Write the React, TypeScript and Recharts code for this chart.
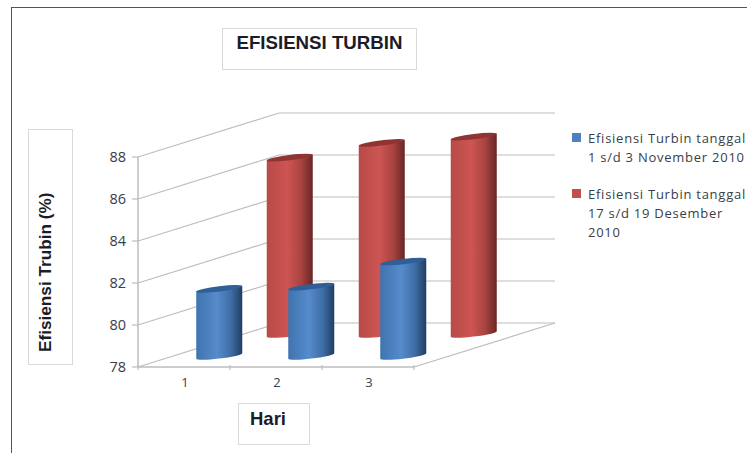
// Efisiensi turbin: faux 3D cylinder columns. Depth is drawn by the grid and the
// bar shapes, everything else comes from the Recharts scales.
import { ComposedChart, Bar, XAxis, YAxis, CartesianGrid } from 'recharts';

const HARI = ['1', '2', '3'];
const NOVEMBER = [81.2, 81.3, 82.5];
const DESEMBER = [86.4, 87.1, 87.4];
const Y_TICKS = [78, 80, 82, 84, 86, 88];
const NAME_NOV = 'Efisiensi Turbin tanggal 1 s/d 3 November 2010';
const NAME_DES = 'Efisiensi Turbin tanggal 17 s/d 19 Desember 2010';

const data = HARI.map((hari, i) => ({ hari, nov: NOVEMBER[i], des: DESEMBER[i] }));

// Offset from the front plane to the back wall.
const DEPTH_X = 141;
const DEPTH_Y = 44;
const GRID = '#bdbdbd';
const FONT = '"Open Sans", sans-serif';
const BOLD = '"Liberation Sans", Arial, sans-serif';
const TEXT = '#3a4048';

// Cylinder with a tilted elliptical cap, shifted to its row in depth.
function cylinder(grad: string, cap: string, row: number) {
  return (props: any) => {
    const { x, y, width, height } = props;
    const cx = x + DEPTH_X * row;
    const top = y - DEPTH_Y * row;
    const bottom = top + height;
    const tilt = 2.8;
    const rx = width / 2;
    const ry = 2.6;
    const body =
      `M${cx},${top + tilt} L${cx},${bottom + tilt} ` +
      `A${rx},${ry} -7 0 0 ${cx + width},${bottom - tilt} ` +
      `L${cx + width},${top - tilt} Z`;
    return (
      <g>
        <path d={body} fill={`url(#${grad})`} />
        <path
          d={`M${cx},${top + tilt} A${rx},${ry} -7 1 1 ${cx + width},${top - tilt} A${rx},${ry} -7 1 1 ${cx},${top + tilt} Z`}
          fill={cap}
        />
      </g>
    );
  };
}

// Each y grid line becomes side wall slant + back wall line.
function wallLine(props: any) {
  const { x1, x2, y1, index } = props;
  const bx = x1 + DEPTH_X;
  const by = y1 - DEPTH_Y;
  return (
    <g key={`wall-${y1}`} stroke={GRID} strokeWidth={1.2} fill="none">
      <line x1={x1} y1={y1} x2={bx} y2={by} />
      <line x1={bx} y1={by} x2={x2 + DEPTH_X} y2={by} />
      {index === 0 && <line x1={x2} y1={y1} x2={x2 + DEPTH_X} y2={by} />}
    </g>
  );
}

function YTick(props: any) {
  const { x, y, payload } = props;
  return (
    <text x={x - 4} y={y} dy={1.5} textAnchor="end" dominantBaseline="middle" fontFamily={FONT} fontSize={14.5} fill={TEXT}>
      {payload.value}
    </text>
  );
}

function XTick(props: any) {
  const { x, y, payload, index, width, visibleTicksCount } = props;
  const band = width / HARI.length;
  const left = x - band / 2;
  return (
    <g>
      <line x1={left} y1={y - 8} x2={left} y2={y - 3} stroke={GRID} strokeWidth={1.2} />
      {index === (visibleTicksCount ?? HARI.length) - 1 && (
        <line x1={left + band} y1={y - 8} x2={left + band} y2={y - 3} stroke={GRID} strokeWidth={1.2} />
      )}
      <text x={x + 1} y={y + 11} textAnchor="middle" dominantBaseline="middle" fontFamily={FONT} fontSize={13} fill={TEXT}>
        {payload.value}
      </text>
    </g>
  );
}

function LegendBox() {
  const items = [
    { name: NAME_NOV, color: '#4f81bd' },
    { name: NAME_DES, color: '#c0504d' },
  ];
  return (
    <div style={{ position: 'absolute', left: 572, top: 129, fontFamily: FONT, fontSize: 13, lineHeight: '19px', color: TEXT }}>
      {items.map((it) => (
        <div key={it.name} style={{ position: 'relative', paddingLeft: 16, width: 162, marginBottom: 18, letterSpacing: 0.75 }}>
          <span style={{ position: 'absolute', left: 0, top: 4, width: 9, height: 9, background: it.color }} />
          {it.name}
        </div>
      ))}
    </div>
  );
}

const box = { position: 'absolute', border: '1.5px solid #d9d9d9', boxSizing: 'border-box', background: '#fff' } as const;

export default function App() {
  return (
    <div style={{ position: 'absolute', left: 0, top: 0, width: 747, height: 453, background: '#fff', overflow: 'hidden' }}>
      <div style={{ position: 'absolute', left: 11, top: 7, right: -4, bottom: -4, border: '1.5px solid #555' }} />
      <ComposedChart
        width={747}
        height={453}
        data={data}
        barSize={46}
        barGap={-46}
        margin={{ top: 157, right: 333, bottom: 0, left: 0 }}
        style={{ position: 'absolute', left: 0, top: 0 }}
      >
        <defs>
          <linearGradient id="gradBlue" x1="0" y1="0" x2="1" y2="0">
            <stop offset="0" stopColor="#3f74b0" />
            <stop offset="0.45" stopColor="#568bcc" />
            <stop offset="0.75" stopColor="#3f6ea6" />
            <stop offset="1" stopColor="#1f3d63" />
          </linearGradient>
          <linearGradient id="gradRed" x1="0" y1="0" x2="1" y2="0">
            <stop offset="0" stopColor="#b84a47" />
            <stop offset="0.45" stopColor="#cd5553" />
            <stop offset="0.75" stopColor="#a84341" />
            <stop offset="1" stopColor="#692523" />
          </linearGradient>
        </defs>
        <CartesianGrid horizontal={wallLine} vertical={false} />
        <XAxis dataKey="hari" axisLine={{ stroke: GRID, strokeWidth: 1.5 }} tickLine={false} tick={<XTick />} height={86} tickMargin={0} />
        <YAxis
          domain={[78, 88]}
          ticks={Y_TICKS}
          interval={0}
          width={138}
          axisLine={{ stroke: GRID, strokeWidth: 1.5 }}
          tickLine={{ stroke: GRID, strokeWidth: 1.2 }}
          tickSize={6}
          tick={<YTick />}
        />
        <Bar dataKey="des" name={NAME_DES} fill="#c0504d" isAnimationActive={false} shape={cylinder('gradRed', '#8e3533', 0.75)} />
        <Bar dataKey="nov" name={NAME_NOV} fill="#4f81bd" isAnimationActive={false} shape={cylinder('gradBlue', '#2f5f96', 0.25)} />
      </ComposedChart>
      <LegendBox />
      <div style={{ ...box, left: 222, top: 28, width: 195, height: 42, fontFamily: BOLD, fontWeight: 700, fontSize: 18.7, color: '#1c1c28', textAlign: 'center', paddingTop: 3 }}>
        EFISIENSI TURBIN
      </div>
      <div style={{ ...box, left: 28, top: 129, width: 45, height: 236 }}>
        <div
          style={{
            position: 'absolute',
            left: 16,
            top: 222,
            transformOrigin: '0 0',
            transform: 'rotate(-90deg) translateY(-50%)',
            whiteSpace: 'nowrap',
            fontFamily: BOLD,
            fontWeight: 700,
            fontSize: 17.2,
            color: '#1c1c28',
          }}
        >
          Efisiensi Trubin (%)
        </div>
      </div>
      <div style={{ ...box, left: 238, top: 403, width: 72, height: 42, fontFamily: BOLD, fontWeight: 700, fontSize: 18.5, color: '#1c1c28', paddingLeft: 11, paddingTop: 4 }}>
        Hari
      </div>
    </div>
  );
}
